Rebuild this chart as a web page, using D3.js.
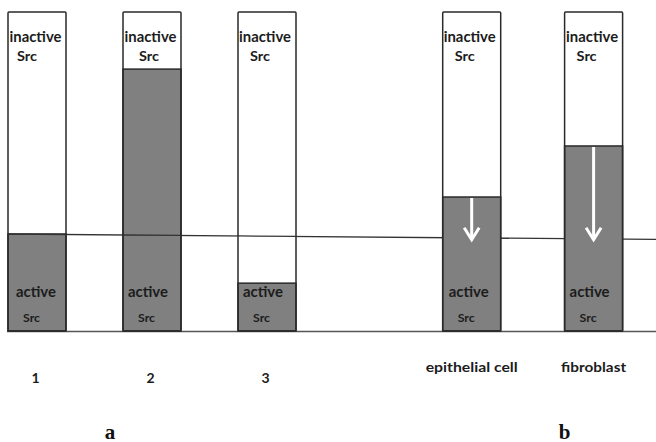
<!DOCTYPE html>
<html><head><meta charset="utf-8">
<script src="https://cdn.jsdelivr.net/npm/d3@7"></script>
<style>body{margin:0;background:#fff}svg{display:block}</style>
</head><body><svg id="c" width="656" height="442"></svg>
<script>
const categories = ["1","2","3","epithelial cell","fibroblast"];
const slots = [0, 1, 2, 3.78, 4.84];           // horizontal slot of each bar
const activeShare = [30.4, 82.1, 15.0, 42.0, 58.0]; // % active Src
const showArrow = [false, false, false, true, true];
const referenceLevel = [30.4, 28.7];           // reference line at left / right edge
const arrowEnd = 28.6;
const panelLabels = ["a", "b"];
const panelSlots = [0.887, 4.84];
const topLabel = ["inactive","Src"], bottomLabel = ["active","Src"];

// small per-bar text offsets (layout only)
const inactiveDx = [1.5, 1.5, 1, 1, 1.5];
const srcTopDx = [9, 16, 12, 12, 12];
const activeDx = [8, 5, 5, 6, 5];

const svg = d3.select("#c");
const x = d3.scaleLinear().domain([0,1]).range([8,123]);
const y = d3.scaleLinear().domain([0,100]).range([331,12]);
const bw = 58;
const font = "Lato, 'Open Sans', sans-serif";
const ink = "#1c1c1c";

const xr = d3.scaleLinear().domain([x(0), 656]).range(referenceLevel);
svg.append("line").attr("x1",x(0)).attr("x2",656)
  .attr("y1",y(referenceLevel[0])).attr("y2",y(referenceLevel[1]))
  .attr("stroke","#333").attr("stroke-width",1.3);
svg.append("line").attr("x1",x(0)-1).attr("x2",656).attr("y1",y(0)+0.5).attr("y2",y(0)+0.5)
  .attr("stroke","#555").attr("stroke-width",1.4);

function txt(s, str, xx, yy, size, len, anchor){
  const t = s.append("text").attr("x",xx).attr("y",yy).text(str)
    .attr("font-family",font).attr("font-weight",700).attr("font-size",size).attr("fill",ink);
  if(anchor) t.attr("text-anchor",anchor);
  if(len) t.attr("textLength",len).attr("lengthAdjust","spacingAndGlyphs");
  return t;
}

const g = svg.selectAll("g.bar").data(categories).join("g").attr("class","bar");
g.each(function(c,i){
  const s = d3.select(this), x0 = x(slots[i]);
  s.append("rect").attr("x",x0).attr("y",y(100)).attr("width",bw).attr("height",y(0)-y(100))
    .attr("fill","#fff");
  s.append("rect").attr("x",x0).attr("y",y(activeShare[i])).attr("width",bw)
    .attr("height",y(0)-y(activeShare[i])).attr("fill","#808080").attr("stroke","#2a2a2a").attr("stroke-width",1.5);
  if(!showArrow[i]){
    s.append("line").attr("x1",x0).attr("x2",x0+bw)
      .attr("y1",y(xr(x0))).attr("y2",y(xr(x0+bw))).attr("stroke","#333").attr("stroke-width",1.3);
  }
  s.append("rect").attr("x",x0).attr("y",y(100)).attr("width",bw).attr("height",y(0)-y(100))
    .attr("fill","none").attr("stroke","#2a2a2a").attr("stroke-width",1.5).attr("rx",1);
  txt(s, topLabel[0], x0+inactiveDx[i], y(100)+29.5, 15, 52);
  txt(s, topLabel[1], x0+srcTopDx[i], y(100)+48.5, 13, 20);
  txt(s, bottomLabel[0], x0+activeDx[i], 297, 14.5, 40);
  txt(s, bottomLabel[1], x0+15, 321.5, 12, 17);
  if(showArrow[i]){
    const ax = x0+bw/2, y1 = y(activeShare[i])+1, y2 = y(arrowEnd);
    s.append("line").attr("x1",ax).attr("x2",ax).attr("y1",y1).attr("y2",y2-1.5)
      .attr("stroke","#fff").attr("stroke-width",3);
    s.append("path").attr("d",`M${ax-7.5},${y2-12}L${ax},${y2}L${ax+7.5},${y2-12}`)
      .attr("fill","none").attr("stroke","#fff").attr("stroke-width",3);
  }
  const two = i>=3;
  if(two) txt(s, c, x0+bw/2, 372, 14, i==3?92:65, "middle");
  else txt(s, c, x0+bw/2-1.5, 383, 14, null, "middle");
});

svg.selectAll("text.panel").data(panelLabels).join("text").attr("class","panel")
  .attr("x",(d,i)=>x(panelSlots[i])).attr("y",438.5).text(d=>d)
  .attr("text-anchor","middle").attr("font-family","'Liberation Serif', serif")
  .attr("font-weight",700).attr("font-size",21).attr("fill","#111");
</script></body></html>
